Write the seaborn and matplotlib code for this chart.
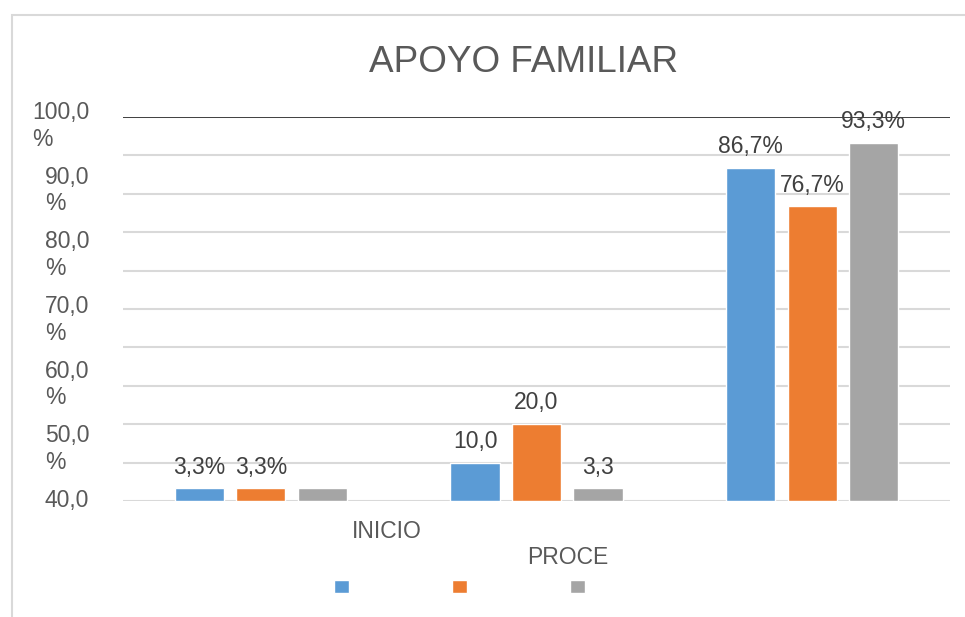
import numpy as np
import pandas as pd
import matplotlib
matplotlib.use("Agg")
import matplotlib.pyplot as plt
import matplotlib.transforms as mtransforms
from matplotlib.patches import Patch, Rectangle
import seaborn as sns

# data
niveles = ["INICIO", "PROCESO", "LOGRO"]
series = ["Serie 1", "Serie 2", "Serie 3"]
valores = {
    "Serie 1": [3.3, 10.0, 86.7],
    "Serie 2": [3.3, 20.0, 76.7],
    "Serie 3": [3.3, 3.3, 93.3],
}
etiquetas = {
    "Serie 1": ["3,3%", "10,0", "86,7%"],
    "Serie 2": ["3,3%", "20,0", "76,7%"],
    "Serie 3": ["", "3,3", "93,3%"],
}
ytick_labels = ["100,0\n%", "90,0\n%", "80,0\n%", "70,0\n%", "60,0\n%", "50,0\n%", "40,0"]
cat_labels = ["INICIO", "PROCE"]
colores = ["#5b9bd5", "#ed7d31", "#a5a5a5"]

rows = []
for s in series:
    for n, v in zip(niveles, valores[s]):
        rows.append({"nivel": n, "serie": s, "valor": v})
df = pd.DataFrame(rows)

sns.set_style("white")
plt.rcParams["font.family"] = ["Liberation Sans", "DejaVu Sans"]

fig = plt.figure(figsize=(9.65, 6.17), dpi=100)
ax = fig.add_axes([0.1275, 0.188, 0.857, 0.6224])

# outer frame
fig.patches.append(Rectangle((12 / 965, -0.05), 1.2, 1 - 15 / 617 + 0.05,
                             transform=fig.transFigure, fill=False,
                             edgecolor="#d9d9d9", lw=1.5))

sns.barplot(data=df, x="nivel", y="valor", hue="serie", order=niveles,
            hue_order=series, palette=colores, saturation=1, width=0.669,
            gap=0.2, legend=False, ax=ax, zorder=2)

ax.set_xlim(-0.5, 2.5)
ax.set_ylim(0, 100)
ax.set_yticks(np.arange(0, 101, 10))
ax.set_yticklabels([])
ax.set_xticks([])
ax.tick_params(length=0)
ax.grid(axis="y", color="#d9d9d9", lw=1.5, zorder=0)
ax.set_axisbelow(True)
for sp in ax.spines.values():
    sp.set_visible(False)
ax.axhline(100, color="#404040", lw=1.4, zorder=3)
ax.set_xlabel("")
ax.set_ylabel("")

for cont, s in zip(ax.containers, series):
    ax.bar_label(cont, labels=etiquetas[s], padding=7, fontsize=16.5,
                 color="#404040")

# misplaced y labels as in the reference (first line centred on position)
shift = mtransforms.ScaledTranslation(0, 12 / 100, fig.dpi_scale_trans)
for yv, lab in zip(np.linspace(101, 0, len(ytick_labels)), ytick_labels):
    ax.text(-0.041, yv, lab, transform=ax.get_yaxis_transform() + shift,
            ha="right", va="top", ma="left", fontsize=16.5,
            color="#595959")

# staggered category labels
fig.text(387 / 965, 1 - 532 / 617, cat_labels[0], ha="center", va="center",
         fontsize=16.5, color="#595959")
fig.text(568 / 965, 1 - 558 / 617, cat_labels[1], ha="center", va="center",
         fontsize=16.5, color="#595959")

fig.text(524 / 965, 1 - 63 / 617, "APOYO FAMILIAR", ha="center", va="center",
         fontsize=26.6, color="#595959")

handles = [Patch(facecolor=c) for c in colores]
fig.legend(handles, ["", "", ""], ncol=3, loc="center",
           bbox_to_anchor=(465 / 965, 1 - 587 / 617), frameon=False,
           fontsize=10, handlelength=1.1, handleheight=1.1,
           handletextpad=0.8, columnspacing=6.6)

fig.savefig("out.png", dpi=100)
